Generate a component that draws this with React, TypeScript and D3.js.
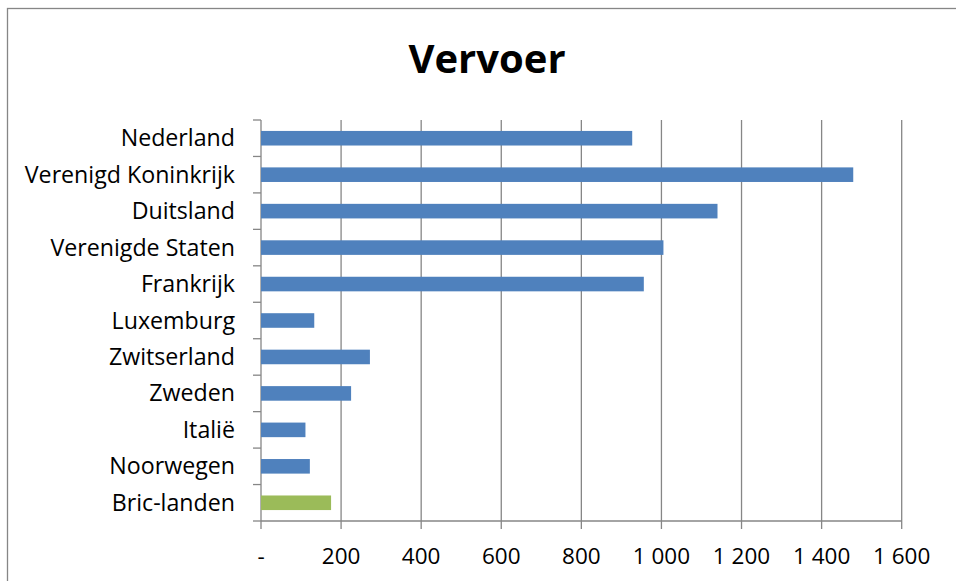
import React from "react";
import * as d3 from "d3";

const categories = [
  "Nederland",
  "Verenigd Koninkrijk",
  "Duitsland",
  "Verenigde Staten",
  "Frankrijk",
  "Luxemburg",
  "Zwitserland",
  "Zweden",
  "Italië",
  "Noorwegen",
  "Bric-landen",
];
const values = [927, 1479, 1140, 1005, 956, 133, 272, 225, 111, 122, 175];
const barColors = ["#4F81BD", "#4F81BD", "#4F81BD", "#4F81BD", "#4F81BD", "#4F81BD", "#4F81BD", "#4F81BD", "#4F81BD", "#4F81BD", "#9BBB59"];
const xTicks = [0, 200, 400, 600, 800, 1000, 1200, 1400, 1600];
const title = "Vervoer";

const W = 956;
const H = 581;
const FONT = "'Open Sans', Lato, 'Noto Sans', sans-serif";

function fmt(v: number): string {
  if (v === 0) return "-";
  const s = String(v);
  return s.replace(/\B(?=(\d{3})+(?!\d))/g, " ");
}

export default function App() {
  const left = 261;
  const right = 901.7;
  const top = 120;
  const bottom = 521;
  const x = d3.scaleLinear().domain([0, 1600]).range([left, right]);
  const y = d3.scaleBand<string>().domain(categories).range([top, bottom]).paddingInner(0.6).paddingOuter(0.3);
  const step = (bottom - top) / categories.length;
  const grid = "#868686";
  return (
    <svg width={W} height={H} style={{ position: "absolute", left: 0, top: 0 }}>
      <rect x={0} y={0} width={W} height={H} fill="#fff" />
      <rect x={7.5} y={8.5} width={W + 10} height={H + 10} fill="none" stroke={grid} strokeWidth={1.3} />
      <text x={487} y={73} textAnchor="middle" fontFamily={FONT} fontWeight="bold" fontSize={40} fill="#000">
        {title}
      </text>
      {xTicks.map((t) => (
        <line key={"g" + t} x1={x(t)} x2={x(t)} y1={top} y2={bottom + 8} stroke={grid} strokeWidth={1.3} />
      ))}
      <line x1={left} x2={right} y1={bottom} y2={bottom} stroke={grid} strokeWidth={1.3} />
      {d3.range(categories.length + 1).map((i) => (
        <line key={"yt" + i} x1={left - 8} x2={left} y1={top + i * step} y2={top + i * step} stroke={grid} strokeWidth={1.3} />
      ))}
      {categories.map((c, i) => (
        <rect key={c} x={x(0)} y={y(c)!} width={x(values[i]) - x(0)} height={y.bandwidth()} fill={barColors[i]} />
      ))}
      {categories.map((c) => (
        <text key={"l" + c} x={235} y={y(c)! + y.bandwidth() / 2 + 8} textAnchor="end" fontFamily={FONT} fontSize={23.2} fill="#000">
          {c}
        </text>
      ))}
      {xTicks.map((t) => (
        <text key={"t" + t} x={x(t)} y={564} textAnchor="middle" fontFamily={FONT} fontSize={22.5} fill="#000">
          {fmt(t)}
        </text>
      ))}
    </svg>
  );
}
